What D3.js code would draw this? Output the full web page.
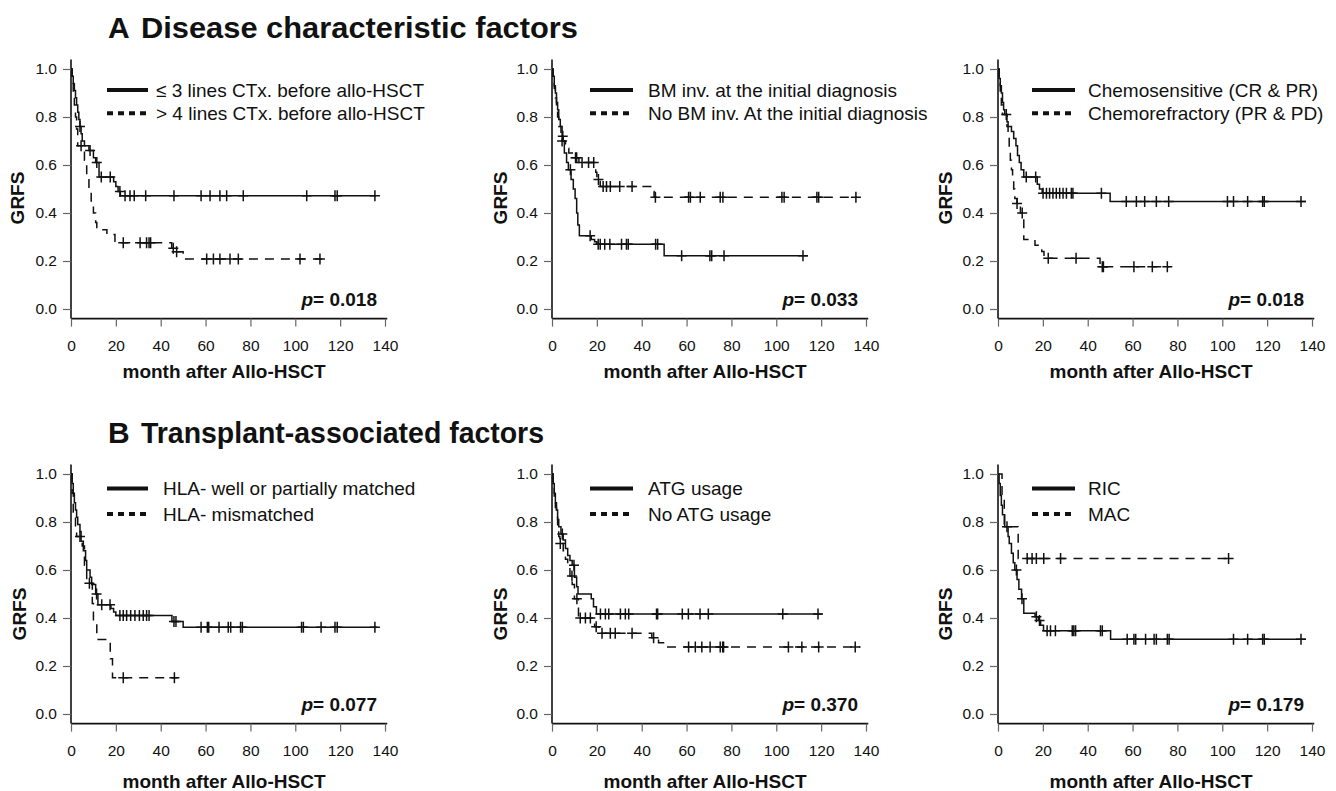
<!DOCTYPE html>
<html>
<head>
<meta charset="utf-8">
<script src="https://cdn.jsdelivr.net/npm/d3@7"></script>
<style>
  body { margin: 0; background: #fff; }
  svg { display: block; font-family: Arial, "Liberation Sans", sans-serif; }
</style>
</head>
<body>
<svg id="chart" width="1336" height="791"></svg>
<script>
// ---------- data ----------
const xTicks = [0, 20, 40, 60, 80, 100, 120, 140];
const yTicks = [0.0, 0.2, 0.4, 0.6, 0.8, 1.0];
const xTitle = "month after Allo-HSCT";
const yTitle = "GRFS";
const sectionTitles = [["A", "Disease characteristic factors"], ["B", "Transplant-associated factors"]];

// Panel A1: lines of chemotherapy
const a1Labels = ["\u2264 3 lines CTx. before allo-HSCT", "> 4 lines CTx. before allo-HSCT"];
const a1SolidSteps = [[0,1],[0.5,0.97],[1,0.94],[1.5,0.91],[2,0.88],[2.5,0.85],[3,0.82],[3.5,0.79],[4,0.76],[4.5,0.73],[5,0.70],[6,0.68],[8,0.66],[10,0.63],[11,0.61],[12.5,0.55],[19,0.53],[20,0.51],[21,0.49],[22,0.472]];
const a1SolidCensor = [4, 8.5, 11.5, 13.5, 17.5, 21.8, 24.1, 26.3, 28.2, 33.3, 45.9, 58.0, 62.0, 66.4, 69.4, 76.8, 105.1, 117.7, 118.7, 135.5];
const a1SolidEnd = 136;
const a1DashSteps = [[0,1],[0.5,0.95],[1,0.90],[1.5,0.85],[2,0.80],[2.5,0.75],[3,0.68],[6,0.62],[7,0.55],[8,0.50],[9,0.45],[10,0.40],[11,0.36],[11.5,0.33],[16,0.31],[19.6,0.276],[44.9,0.253],[47,0.239],[50,0.208]];
const a1DashCensor = [4.5, 23.3, 30.8, 33.7, 34.8, 35.5, 45.6, 47.1, 60.5, 63.5, 66.4, 70.9, 74.6, 102.1, 111];
const a1DashEnd = 112.5;
const a1P = "0.018";

// Panel A2: BM involvement
const a2Labels = ["BM inv. at  the initial diagnosis", "No BM inv. At the initial diagnosis"];
const a2SolidSteps = [[0,1],[0.5,0.97],[1,0.93],[1.5,0.90],[2,0.86],[2.5,0.83],[3,0.79],[3.7,0.76],[4.5,0.72],[5,0.70],[5.5,0.65],[6.5,0.61],[7.3,0.58],[8.5,0.54],[9.5,0.50],[10.3,0.46],[11,0.40],[11.5,0.35],[12.2,0.305],[17.5,0.29],[19,0.28],[20,0.27],[50,0.222]];
const a2SolidCensor = [4.8, 8.2, 17, 20.6, 21.5, 23.5, 25.8, 31, 33.2, 34, 46.2, 47.1, 57.8, 70.4, 71.2, 76.7, 111.9];
const a2SolidEnd = 114;
const a2DashSteps = [[0,1],[0.5,0.96],[1,0.92],[1.5,0.88],[2,0.84],[2.5,0.80],[3,0.76],[4,0.72],[4.5,0.70],[6,0.67],[7.5,0.65],[9.5,0.63],[12,0.61],[19.5,0.57],[20,0.54],[21.5,0.51],[44.5,0.49],[45.5,0.466]];
const a2DashCensor = [4.5, 10.5, 11, 13.4, 16.3, 18.6, 20.7, 22.8, 24.3, 26, 30.2, 35.7, 46.1, 60.9, 61.7, 66.1, 75, 76.2, 102.5, 103.5, 118.1, 118.9, 135.5];
const a2DashEnd = 136;
const a2P = "0.033";

// Panel A3: chemosensitivity
const a3Labels = ["Chemosensitive (CR & PR)", "Chemorefractory (PR & PD)"];
const a3SolidSteps = [[0,1],[0.5,0.96],[1,0.93],[1.5,0.90],[2,0.86],[2.5,0.83],[3,0.81],[4,0.78],[4.5,0.76],[6,0.74],[7,0.71],[8,0.68],[8.7,0.64],[9.5,0.61],[10.3,0.58],[11.5,0.55],[17.5,0.52],[18.5,0.50],[19.7,0.482],[50,0.448]];
const a3SolidCensor = [12.6, 16.8, 20.1, 21.6, 23, 24.5, 26, 27.5, 29, 30.5, 32.7, 33.4, 46.1, 57.2, 61.7, 65.4, 70.6, 76.1, 102.3, 105, 111.3, 118, 118.7, 135.1];
const a3SolidEnd = 137.3;
const a3DashSteps = [[0,1],[0.5,0.95],[1,0.90],[1.5,0.85],[2,0.81],[4,0.76],[4.5,0.71],[5,0.67],[5.5,0.62],[6,0.58],[6.5,0.54],[7,0.50],[7.5,0.46],[8.5,0.44],[10,0.40],[11.5,0.29],[16.5,0.266],[19.5,0.24],[20.5,0.211],[45.5,0.176]];
const a3DashCensor = [3.7, 8.5, 10.8, 22.4, 34.8, 46.5, 47, 60.6, 68.8, 75.5];
const a3DashEnd = 76.5;
const a3P = "0.018";

// Panel B1: HLA matching
const b1Labels = ["HLA- well or partially matched", "HLA- mismatched"];
const b1SolidSteps = [[0,1],[0.5,0.96],[1,0.92],[1.5,0.88],[2,0.85],[2.5,0.82],[3,0.79],[4,0.76],[4.5,0.72],[5.5,0.68],[6.5,0.64],[7,0.60],[8.5,0.57],[9.2,0.54],[11,0.50],[12,0.455],[17.8,0.44],[19,0.425],[20,0.41],[45,0.385],[50,0.361]];
const b1SolidCensor = [11.4, 13.7, 17.4, 21.8, 23.3, 24.8, 26.6, 28.5, 30.5, 32.2, 33.7, 34.8, 45.9, 46.8, 58, 60.8, 61.4, 66, 70.1, 71.2, 75.6, 76.4, 102.8, 103.6, 111.5, 117.7, 118.7, 135.5];
const b1SolidEnd = 136.5;
const b1DashSteps = [[0,1],[0.5,0.92],[1,0.83],[2,0.78],[2.5,0.74],[5,0.70],[6,0.62],[7,0.545],[9.5,0.46],[10,0.385],[11.5,0.31],[17.5,0.23],[18.5,0.151]];
const b1DashCensor = [4, 8.2, 23.3, 46.1];
const b1DashEnd = 47.5;
const b1P = "0.077";

// Panel B2: ATG usage
const b2Labels = ["ATG usage", "No ATG usage"];
const b2SolidSteps = [[0,1],[0.5,0.96],[1,0.92],[1.5,0.88],[2,0.85],[2.5,0.81],[3,0.78],[4,0.75],[5,0.725],[6,0.69],[7,0.66],[8,0.64],[9,0.62],[10,0.57],[11,0.53],[11.6,0.50],[17.5,0.48],[18.5,0.447],[19.8,0.417]];
const b2SolidCensor = [4.6, 9.8, 21.6, 23.8, 25.3, 30.5, 32.7, 34.2, 46.6, 47.1, 58.1, 60.8, 66, 69.7, 102.9, 118.6];
const b2SolidEnd = 120.3;
const b2DashSteps = [[0,1],[0.5,0.95],[1,0.90],[1.5,0.86],[2,0.82],[2.5,0.78],[3,0.74],[3.5,0.71],[5,0.68],[6,0.645],[7,0.61],[8,0.575],[9,0.54],[10,0.48],[11.8,0.40],[19,0.364],[21,0.336],[44.5,0.318],[47.5,0.297],[51,0.279]];
const b2DashCensor = [3.7, 8.9, 11.1, 12.6, 14.9, 17.1, 19.7, 22.3, 26, 28.2, 35.7, 45.3, 60.9, 63.9, 66.8, 70.5, 75, 76.1, 76.5, 105.4, 111.4, 118.9, 135.2];
const b2DashEnd = 137.5;
const b2P = "0.370";

// Panel B3: conditioning
const b3Labels = ["RIC", "MAC"];
const b3SolidSteps = [[0,1],[0.5,0.96],[1,0.91],[1.5,0.87],[2,0.83],[3,0.78],[4.5,0.74],[5,0.71],[6,0.67],[6.8,0.63],[7.5,0.60],[8.5,0.56],[9.3,0.52],[10.5,0.48],[11.5,0.42],[16.5,0.405],[18,0.39],[19,0.37],[20.3,0.347],[50.2,0.311]];
const b3SolidCensor = [4, 8.2, 10.7, 17.1, 18.5, 21.9, 23.4, 25.6, 33.1, 33.8, 34.6, 45.7, 46.5, 57.6, 60.6, 61.4, 65.8, 69.6, 70.6, 75.5, 76.3, 105, 111.3, 118, 118.7, 135.1];
const b3SolidEnd = 137.3;
const b3DashSteps = [[0,1],[1.8,0.89],[2.8,0.78],[9,0.648]];
const b3DashCensor = [13, 15.2, 17.1, 20.4, 27.9, 102.8];
const b3DashEnd = 104.6;
const b3P = "0.179";

// ---------- layout ----------
const panels = [
  {x0: 71,  y1: 69,  y0: 309, leg: [90, 113.3], lx: [36, 77, 85], gx: -54, gy: -111, tb: 378, labels: a1Labels, s: [a1SolidSteps, a1SolidCensor, a1SolidEnd], d: [a1DashSteps, a1DashCensor, a1DashEnd], p: a1P},
  {x0: 552, y1: 69,  y0: 309, leg: [90, 113.3], lx: [38, 81, 96], gx: -52, gy: -111, tb: 378, labels: a2Labels, s: [a2SolidSteps, a2SolidCensor, a2SolidEnd], d: [a2DashSteps, a2DashCensor, a2DashEnd], p: a2P},
  {x0: 998, y1: 69,  y0: 309, leg: [90, 113.3], lx: [34, 77, 90], gx: -53, gy: -111, tb: 378, labels: a3Labels, s: [a3SolidSteps, a3SolidCensor, a3SolidEnd], d: [a3DashSteps, a3DashCensor, a3DashEnd], p: a3P},
  {x0: 71,  y1: 474, y0: 714, leg: [488.5, 514], lx: [36, 77, 92], gx: -52, gy: -100, tb: 788, labels: b1Labels, s: [b1SolidSteps, b1SolidCensor, b1SolidEnd], d: [b1DashSteps, b1DashCensor, b1DashEnd], p: b1P},
  {x0: 552, y1: 474, y0: 714, leg: [488.5, 514], lx: [38, 81, 96], gx: -52, gy: -100, tb: 788, labels: b2Labels, s: [b2SolidSteps, b2SolidCensor, b2SolidEnd], d: [b2DashSteps, b2DashCensor, b2DashEnd], p: b2P},
  {x0: 998, y1: 474, y0: 714, leg: [488.5, 514], lx: [34, 77, 90], gx: -53, gy: -100, tb: 788, labels: b3Labels, s: [b3SolidSteps, b3SolidCensor, b3SolidEnd], d: [b3DashSteps, b3DashCensor, b3DashEnd], p: b3P}
];

const svg = d3.select("#chart");
const ink = "#111";

// Section titles
[[38, sectionTitles[0]], [443, sectionTitles[1]]].forEach(([yb, t]) => {
  svg.append("text").attr("x", 108).attr("y", yb).attr("font-size", 30).attr("font-weight", "bold").attr("fill", ink).text(t[0]);
  svg.append("text").attr("x", 141).attr("y", yb).attr("font-size", 30).attr("font-weight", "bold").attr("fill", ink)
    .attr("textLength", t === sectionTitles[0] ? 437 : 403).attr("lengthAdjust", "spacingAndGlyphs").text(t[1]);
});

function survAt(steps, t) {
  let s = steps[0][1];
  for (const st of steps) { if (st[0] <= t) s = st[1]; else break; }
  return s;
}

panels.forEach(P => {
  const x = d3.scaleLinear().domain([0, 140]).range([P.x0, P.x0 + 314]);
  const y = d3.scaleLinear().domain([0, 1]).range([P.y0, P.y1]);
  const g = svg.append("g");

  // axes lines (L-shaped box)
  const yBottom = y(-0.04), yTop = y(1.04);
  g.append("line").attr("x1", x(0)).attr("x2", x(0)).attr("y1", yTop).attr("y2", yBottom).attr("stroke", ink).attr("stroke-width", 1.6);
  g.append("line").attr("x1", x(0)).attr("x2", x(141)).attr("y1", yBottom).attr("y2", yBottom).attr("stroke", ink).attr("stroke-width", 1.6);

  const yAxis = d3.axisLeft(y).tickValues(yTicks).tickFormat(d3.format(".1f")).tickSize(8).tickSizeOuter(0).tickPadding(6);
  const ya = g.append("g").attr("transform", `translate(${x(0)},0)`).call(yAxis);
  ya.select(".domain").remove();
  ya.selectAll("line").attr("stroke", "#666").attr("stroke-width", 1.2);
  ya.selectAll("text").attr("font-size", 15.5).attr("fill", ink).attr("font-family", "Arial, 'Liberation Sans', sans-serif");

  const xAxis = d3.axisBottom(x).tickValues(xTicks).tickSize(8).tickSizeOuter(0).tickPadding(13);
  const xa = g.append("g").attr("transform", `translate(0,${yBottom})`).call(xAxis);
  xa.select(".domain").remove();
  xa.selectAll("line").attr("stroke", "#666").attr("stroke-width", 1.2);
  xa.selectAll("text").attr("font-size", 15.5).attr("fill", ink).attr("font-family", "Arial, 'Liberation Sans', sans-serif");

  // titles
  g.append("text").attr("x", P.x0 + 153).attr("y", P.tb).attr("text-anchor", "middle")
    .attr("font-size", 19).attr("font-weight", "bold").attr("fill", ink).text(xTitle);
  g.append("text").attr("transform", `translate(${P.x0 + P.gx + 7},${P.y0 + P.gy}) rotate(-90)`)
    .attr("text-anchor", "middle").attr("font-size", 19).attr("font-weight", "bold").attr("fill", ink).text(yTitle);

  // legend
  const legStyles = [{dash: null}, {dash: "6,5"}];
  P.labels.forEach((lab, i) => {
    const ly = P.leg[i];
    g.append("line").attr("x1", P.x0 + P.lx[0]).attr("x2", P.x0 + P.lx[1]).attr("y1", ly).attr("y2", ly)
      .attr("stroke", ink).attr("stroke-width", 4).attr("stroke-dasharray", legStyles[i].dash);
    g.append("text").attr("x", P.x0 + P.lx[2]).attr("y", ly + 6.5).attr("font-size", 19).attr("fill", ink).text(lab);
  });

  // curves
  const line = d3.line().x(d => x(d[0])).y(d => y(d[1])).curve(d3.curveStepAfter);
  [[P.d, "9,7"], [P.s, null]].forEach(([ser, dash]) => {
    const [steps, cens, end] = ser;
    const pts = steps.concat([[end, steps[steps.length - 1][1]]]);
    g.append("path").attr("d", line(pts)).attr("fill", "none").attr("stroke", ink)
      .attr("stroke-width", 1.5).attr("stroke-dasharray", dash);
    const cg = g.append("g");
    cens.forEach(c => {
      const cx = x(c), cy = y(survAt(steps, c));
      cg.append("path").attr("d", `M${cx - 5},${cy}H${cx + 5}M${cx},${cy - 5.5}V${cy + 5.5}`)
        .attr("stroke", ink).attr("stroke-width", 1.5).attr("fill", "none");
    });
  });

  // p value
  const pt = g.append("text").attr("x", P.x0 + 306).attr("y", P.y0 - 3).attr("text-anchor", "end")
    .attr("font-size", 19).attr("font-weight", "bold").attr("fill", ink);
  pt.append("tspan").attr("font-style", "italic").text("p");
  pt.append("tspan").text("= " + P.p);
});
</script>
</body>
</html>
